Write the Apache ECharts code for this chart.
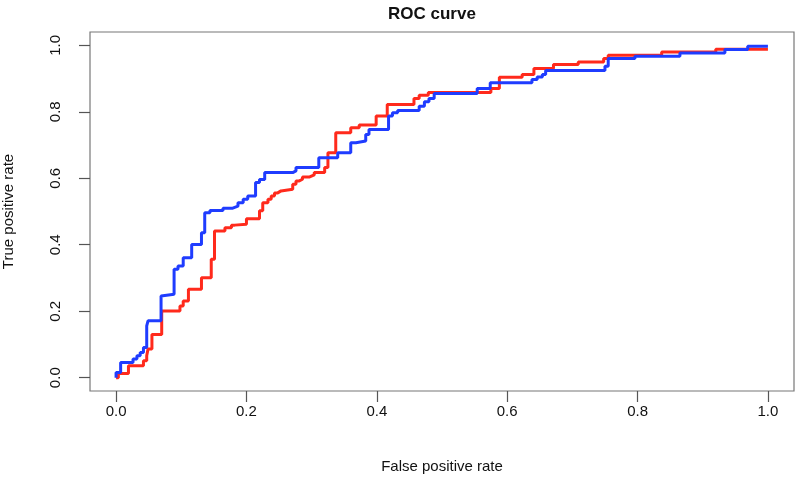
<!DOCTYPE html>
<html>
<head>
<meta charset="utf-8">
<script src="https://cdn.jsdelivr.net/npm/echarts@6/dist/echarts.min.js"></script>
<style>html,body{margin:0;padding:0;background:#fff}#c{width:797px;height:485px}</style>
</head>
<body>
<div id="c"></div>
<script>
// Tick values
var tickValues = [0, 0.2, 0.4, 0.6, 0.8, 1.0];
// Red curve: [false positive rate, true positive rate] at each step
var redFPR = [0, 0.0035, 0.019, 0.042, 0.047, 0.049, 0.055, 0.070, 0.098, 0.103, 0.111, 0.131, 0.146, 0.151, 0.167, 0.177, 0.182, 0.200, 0.220, 0.225, 0.233, 0.238, 0.243, 0.248, 0.253, 0.271, 0.276, 0.281, 0.286, 0.297, 0.304, 0.320, 0.325, 0.337, 0.360, 0.373, 0.399, 0.416, 0.457, 0.465, 0.479, 0.575, 0.588, 0.623, 0.641, 0.671, 0.709, 0.748, 0.755, 0.837, 0.920, 1.0];
var redTPR = [0, 0.013, 0.036, 0.051, 0.066, 0.086, 0.130, 0.201, 0.216, 0.231, 0.266, 0.301, 0.356, 0.441, 0.451, 0.459, 0.462, 0.478, 0.502, 0.526, 0.537, 0.547, 0.556, 0.562, 0.567, 0.582, 0.592, 0.597, 0.604, 0.610, 0.617, 0.632, 0.677, 0.737, 0.752, 0.760, 0.787, 0.822, 0.840, 0.850, 0.858, 0.870, 0.904, 0.912, 0.930, 0.942, 0.950, 0.960, 0.970, 0.980, 0.988, 0.988];
// Blue curve
var blueFPR = [0, 0.0, 0.007, 0.026, 0.032, 0.037, 0.042, 0.047, 0.049, 0.069, 0.072, 0.089, 0.095, 0.103, 0.116, 0.131, 0.136, 0.144, 0.164, 0.179, 0.187, 0.195, 0.202, 0.214, 0.220, 0.228, 0.271, 0.276, 0.311, 0.340, 0.360, 0.368, 0.383, 0.388, 0.418, 0.424, 0.432, 0.465, 0.473, 0.480, 0.488, 0.554, 0.574, 0.638, 0.646, 0.654, 0.659, 0.750, 0.755, 0.796, 0.865, 0.934, 0.969, 1.0];
var blueTPR = [0, 0.016, 0.046, 0.056, 0.066, 0.076, 0.091, 0.156, 0.171, 0.246, 0.251, 0.326, 0.336, 0.361, 0.401, 0.436, 0.496, 0.503, 0.510, 0.516, 0.526, 0.537, 0.547, 0.587, 0.596, 0.617, 0.622, 0.632, 0.662, 0.677, 0.707, 0.712, 0.732, 0.747, 0.787, 0.797, 0.804, 0.817, 0.830, 0.840, 0.855, 0.870, 0.887, 0.897, 0.905, 0.912, 0.924, 0.937, 0.960, 0.967, 0.977, 0.987, 0.997, 0.997];

function pairs(xs, ys) { return xs.map(function (x, i) { return [x, ys[i]]; }); }

var font = 'Liberation Sans, Arial, Helvetica, sans-serif';
var chart = echarts.init(document.getElementById('c'), null, { renderer: 'canvas' });
chart.setOption({
  animation: false,
  backgroundColor: '#fff',
  title: {
    text: 'ROC curve', left: 383, top: 1,
    textStyle: { fontFamily: font, fontSize: 17, fontWeight: 'bold', color: '#111' }
  },
  grid: { left: 90, right: 3, top: 32, bottom: 94, show: true, borderColor: '#777', borderWidth: 1.2,
    backgroundColor: 'transparent', containLabel: false, outerBoundsMode: 'none' },
  xAxis: {
    type: 'value', min: -0.04, max: 1.04,
    name: 'False positive rate', nameLocation: 'middle', nameGap: 68,
    nameTextStyle: { fontFamily: font, fontSize: 15, color: '#111' },
    axisLine: { show: false, onZero: false },
    splitLine: { show: false },
    axisTick: { show: true, inside: false, length: 11, customValues: tickValues, lineStyle: { color: '#555', width: 1.2 } },
    axisLabel: { customValues: tickValues, margin: 13, fontFamily: font, fontSize: 15, color: '#111',
      formatter: function (v) { return v.toFixed(1); } }
  },
  yAxis: {
    type: 'value', min: -0.04, max: 1.04,
    name: 'True positive rate', nameLocation: 'middle', nameGap: 74, nameRotate: 90,
    nameTextStyle: { fontFamily: font, fontSize: 15, color: '#111' },
    axisLine: { show: false, onZero: false },
    splitLine: { show: false },
    axisTick: { show: true, inside: false, length: 11, customValues: tickValues, lineStyle: { color: '#555', width: 1.2 } },
    axisLabel: { customValues: tickValues, rotate: 90, margin: 27, fontFamily: font, fontSize: 15, color: '#111',
      formatter: function (v) { return v.toFixed(1); } }
  },
  series: [
    { type: 'line', data: pairs(redFPR, redTPR), step: 'end', showSymbol: false, symbol: 'none',
      lineStyle: { color: '#ff2a1c', width: 3 }, z: 2 },
    { type: 'line', data: pairs(blueFPR, blueTPR), step: 'end', showSymbol: false, symbol: 'none',
      lineStyle: { color: '#1f3cff', width: 3 }, z: 3 }
  ]
});
</script>
</body>
</html>
